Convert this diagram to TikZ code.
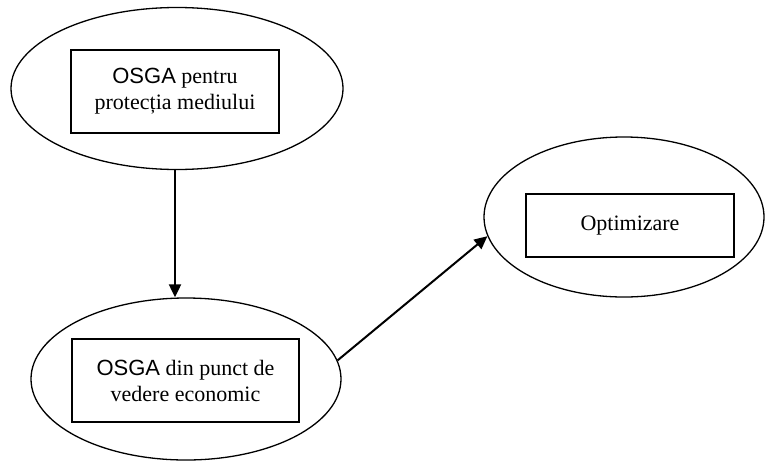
\documentclass[tikz,border=0pt]{standalone}
\usepackage{fontspec}
\setmainfont{Liberation Serif}
\newfontfamily\arialf{Liberation Sans}
\usetikzlibrary{shapes.geometric,arrows.meta}
\begin{document}
\begin{tikzpicture}[x=1pt,y=-1pt,
  oval/.style={draw,ellipse,line width=1.3pt,inner sep=0pt},
  label box/.style={draw,rectangle,line width=1.3pt,inner sep=0pt,align=center,
    font=\fontsize{22}{26}\selectfont},
  flow/.style={line width=2pt,-{Triangle[length=13pt,width=12pt]}}]
\useasboundingbox (0,0) rectangle (765,461);
% outer ellipses
\node[oval,minimum width=332pt,minimum height=162pt] (e1) at (177,88.5) {};
\node[oval,minimum width=310pt,minimum height=162pt] (e2) at (186,379) {};
\node[oval,minimum width=280pt,minimum height=160pt] (e3) at (624,217) {};
% inner boxes
\node[label box,minimum width=208pt,minimum height=83pt] (b1) at (175,91.5)
  {{\arialf OSGA} pentru\\protecția mediului};
\node[label box,minimum width=227pt,minimum height=83pt] (b2) at (185.5,380.5)
  {{\arialf OSGA} din punct de\\vedere economic};
\node[label box,minimum width=208pt,minimum height=63pt] (b3) at (630,225.5)
  {Optimizare};
% connectors
\draw[flow] (e1.south -| b1.south) -- (b1.south |- e2.north);
\draw[flow] (e2.7) -- (e3.188);
\end{tikzpicture}
\end{document}
